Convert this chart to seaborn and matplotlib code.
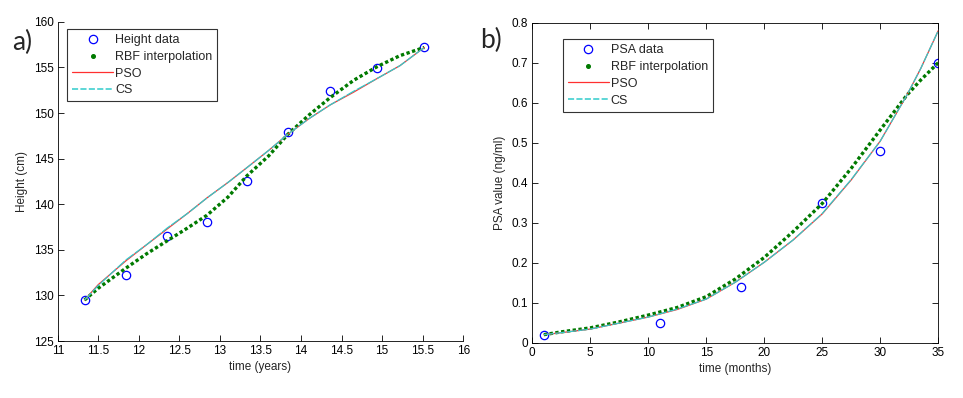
import matplotlib
matplotlib.use("Agg")
import matplotlib.pyplot as plt
from matplotlib.lines import Line2D
from matplotlib.ticker import MultipleLocator, FormatStrFormatter
import seaborn as sns

# a) height growth data and fitted curves
height_t = [11.33, 11.84, 12.35, 12.84, 13.33, 13.84, 14.36, 14.94, 15.52]
height_cm = [129.5, 132.3, 136.5, 138.1, 142.5, 147.9, 152.4, 154.9, 157.2]

height_fit_t = [11.33, 11.5, 11.84, 12.1, 12.35, 12.6, 12.84, 13.1, 13.33,
                13.6, 13.84, 14.1, 14.36, 14.65, 14.94, 15.22, 15.52]
height_rbf = [129.5, 130.8, 133.0, 134.6, 136.0, 137.4, 138.8, 140.8, 143.1,
              145.3, 147.7, 149.8, 151.7, 153.6, 155.1, 156.3, 157.2]
height_pso = [129.5, 131.2, 133.8, 135.6, 137.3, 139.0, 140.7, 142.4, 144.0,
              145.9, 147.7, 149.4, 150.9, 152.3, 153.8, 155.2, 157.2]
height_cs = [129.5, 131.1, 133.9, 135.6, 137.4, 139.0, 140.7, 142.4, 144.0,
             145.9, 147.7, 149.4, 150.9, 152.4, 153.8, 155.2, 157.2]

# b) PSA data and fitted curves
psa_t = [1, 11, 18, 25, 30, 35]
psa_val = [0.02, 0.05, 0.14, 0.35, 0.48, 0.70]

psa_fit_t = [1, 2.5, 5, 7.5, 10, 12.5, 15, 17.5, 20, 22.5, 25, 27.5, 30,
             32.3, 33.5, 35]
psa_rbf = [0.020, 0.027, 0.037, 0.052, 0.069, 0.088, 0.115, 0.159, 0.213,
           0.278, 0.348, 0.436, 0.532, 0.619, 0.657, 0.700]
psa_pso = [0.020, 0.025, 0.034, 0.049, 0.064, 0.083, 0.109, 0.151, 0.201,
           0.257, 0.322, 0.407, 0.504, 0.619, 0.686, 0.780]
psa_cs = [0.020, 0.025, 0.034, 0.049, 0.064, 0.084, 0.109, 0.151, 0.201,
          0.257, 0.323, 0.408, 0.504, 0.619, 0.686, 0.780]

sns.set_style("white")
plt.rcParams["font.family"] = ["Liberation Sans", "DejaVu Sans"]
plt.rcParams["font.size"] = 8

BLUE = "#0000ff"
GREEN = "#007a00"
RED = "#ff3030"
CYAN = "#30cccc"


def draw_panel(ax, t, y, fit_t, rbf, pso, cs, data_label):
    sns.lineplot(x=t, y=y, ax=ax, marker="o", linestyle="none",
                 markersize=6, markerfacecolor="none",
                 markeredgecolor=BLUE, markeredgewidth=0.9, color=BLUE)
    sns.lineplot(x=fit_t, y=rbf, ax=ax, color=GREEN, lw=2.4,
                 linestyle=(0, (1, 0.75)), dash_capstyle="butt")
    sns.lineplot(x=fit_t, y=pso, ax=ax, color=RED, lw=0.9)
    sns.lineplot(x=fit_t, y=cs, ax=ax, color=CYAN, lw=0.9,
                 linestyle=(0, (8, 1.2)))

    handles = [
        Line2D([], [], marker="o", linestyle="none", markersize=6,
               markerfacecolor="none", markeredgecolor=BLUE,
               markeredgewidth=0.9),
        Line2D([], [], marker="o", linestyle="none", markersize=2.6,
               color=GREEN),
        Line2D([], [], color=RED, lw=0.9),
        Line2D([], [], color=CYAN, lw=1.1, linestyle=(0, (4, 1.5))),
    ]
    labels = [data_label, "RBF interpolation", "PSO", "CS"]
    return handles, labels


def style_axes(ax, box):
    for side in ["left", "bottom", "top", "right"]:
        ax.spines[side].set_color("black")
        ax.spines[side].set_linewidth(0.6)
    if not box:
        ax.spines["top"].set_visible(False)
        ax.spines["right"].set_visible(False)
    ax.tick_params(direction="in", length=4, width=0.6, colors="black",
                   labelsize=8.5, top=box, right=box, bottom=True, left=True,
                   pad=3)


fig = plt.figure(figsize=(9.63, 3.98), dpi=100)
ax1 = fig.add_axes([0.060, 0.143, 0.421, 0.802])
ax2 = fig.add_axes([0.5527, 0.139, 0.4216, 0.804])

h, l = draw_panel(ax1, height_t, height_cm, height_fit_t, height_rbf,
                  height_pso, height_cs, "Height data")
ax1.set_xlim(11, 16)
ax1.set_ylim(125, 160)
ax1.xaxis.set_major_locator(MultipleLocator(0.5))
ax1.yaxis.set_major_locator(MultipleLocator(5))
ax1.xaxis.set_major_formatter(FormatStrFormatter("%g"))
ax1.set_xlabel("time (years)", labelpad=3, fontsize=8.5)
ax1.set_ylabel("Height (cm)", labelpad=4, fontsize=8.5)
style_axes(ax1, box=False)
ax1.legend(h, l, loc="upper left", bbox_to_anchor=(0.023, 0.977),
           borderaxespad=0, fancybox=False, edgecolor="#333333",
           framealpha=1, handlelength=3.3, handletextpad=0.15,
           labelspacing=0.38, borderpad=0.4, fontsize=9)
ax1.get_legend().get_frame().set_linewidth(0.8)

h, l = draw_panel(ax2, psa_t, psa_val, psa_fit_t, psa_rbf, psa_pso,
                  psa_cs, "PSA data")
ax2.set_xlim(0, 35)
ax2.set_ylim(0, 0.8)
ax2.xaxis.set_major_locator(MultipleLocator(5))
ax2.yaxis.set_major_locator(MultipleLocator(0.1))
ax2.yaxis.set_major_formatter(FormatStrFormatter("%g"))
ax2.set_xlabel("time (months)", labelpad=3, fontsize=8.5)
ax2.set_ylabel("PSA value (ng/ml)", labelpad=4, fontsize=8.5)
style_axes(ax2, box=True)
ax2.legend(h, l, loc="upper left", bbox_to_anchor=(0.075, 0.948),
           borderaxespad=0, fancybox=False, edgecolor="#333333",
           framealpha=1, handlelength=3.3, handletextpad=0.15,
           labelspacing=0.38, borderpad=0.4, fontsize=9)
ax2.get_legend().get_frame().set_linewidth(0.8)

fig.text(0.013, 0.875, "a)", fontsize=19, family=["Lato", "DejaVu Sans"])
fig.text(0.499, 0.88, "b)", fontsize=19, family=["Lato", "DejaVu Sans"])

fig.savefig("out.png", dpi=100)
